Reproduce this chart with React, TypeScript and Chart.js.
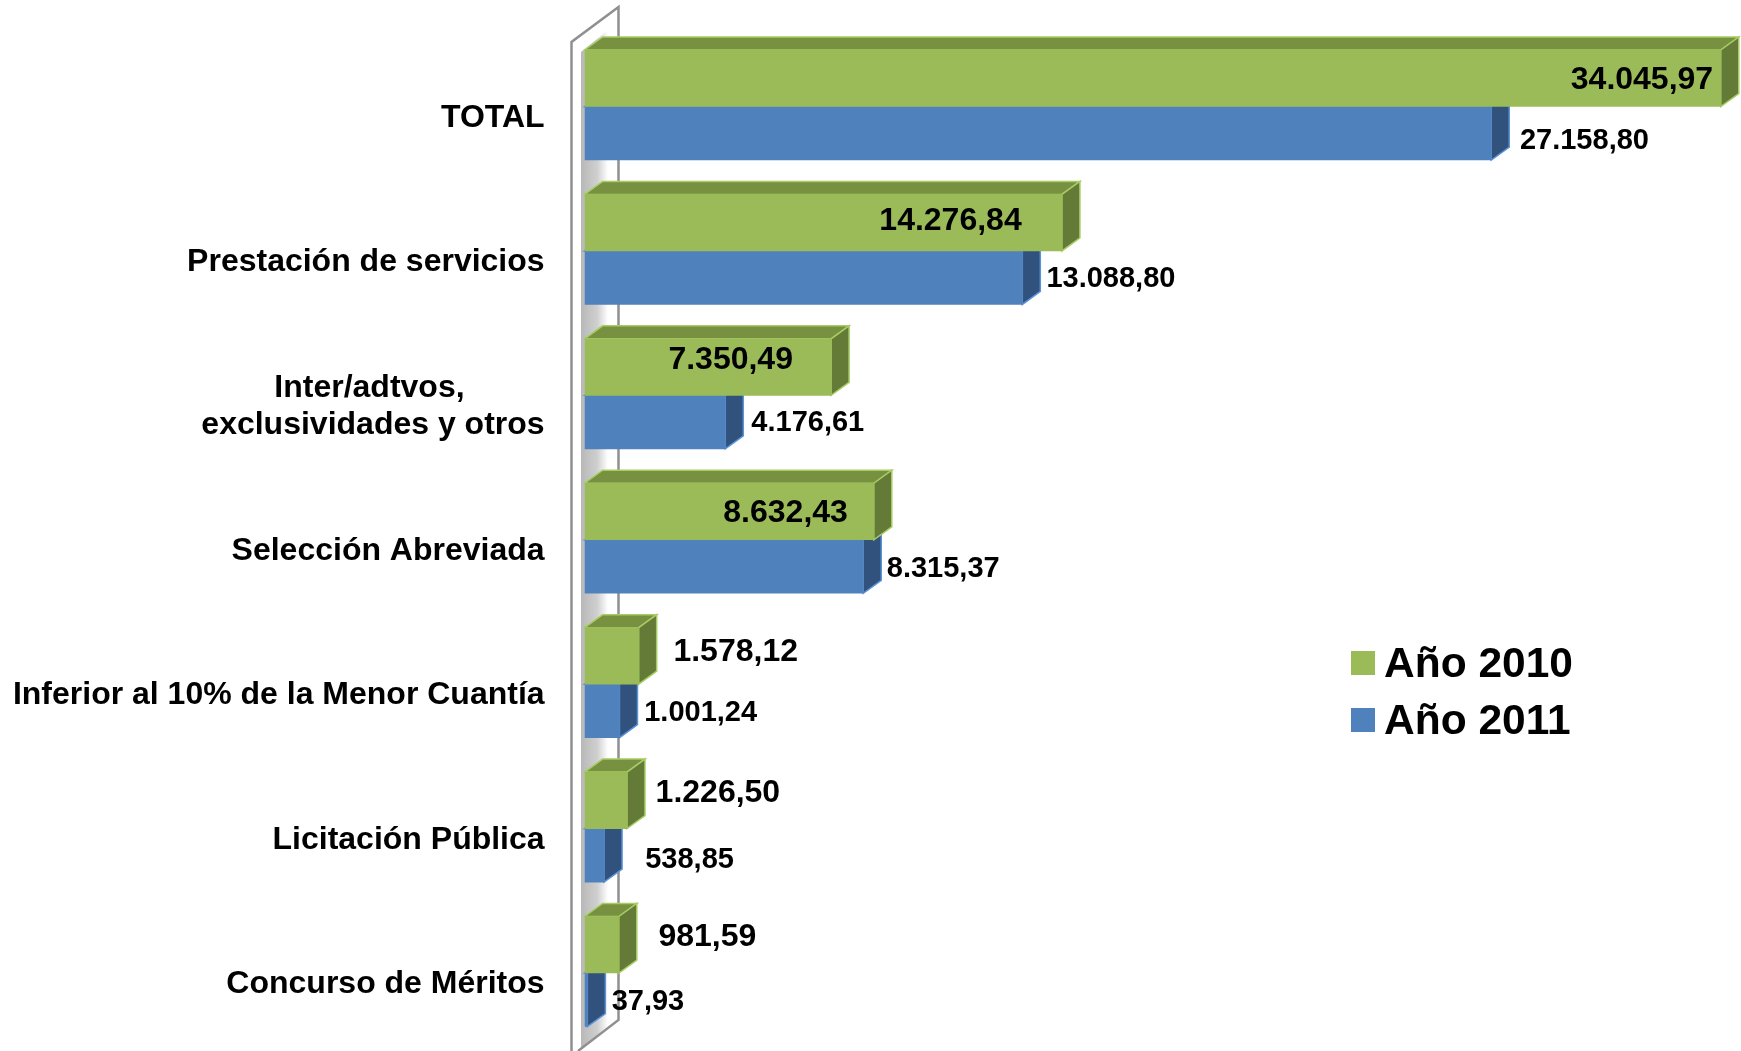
import React, { useEffect, useRef } from "react";
import { Chart, registerables } from "chart.js";

Chart.register(...registerables);

const categories: (string | string[])[] = [
  "TOTAL",
  "Prestación de servicios",
  ["Inter/adtvos,", "exclusividades y otros"],
  "Selección Abreviada",
  "Inferior al 10% de la Menor Cuantía",
  "Licitación Pública",
  "Concurso de Méritos",
];
const seriesNames = ["Año 2010", "Año 2011"];
const values2010 = [34045.97, 14276.84, 7350.49, 8632.43, 1578.12, 1226.5, 981.59];
const values2011 = [27158.8, 13088.8, 4176.61, 8315.37, 1001.24, 538.85, 37.93];
const labels2010 = ["34.045,97", "14.276,84", "7.350,49", "8.632,43", "1.578,12", "1.226,50", "981,59"];
const labels2011 = ["27.158,80", "13.088,80", "4.176,61", "8.315,37", "1.001,24", "538,85", "37,93"];

// label placement relative to bar end / bar centre
const offsetX2010 = [-78.8, -111.4, -100.4, -88.2, 97, 90.9, 88.6];
const offsetY2010 = [-0.3, -3.7, -9.3, -0.5, -6.1, -9.5, -9.5];
const offsetX2011 = [93.2, 88.6, 82.5, 80, 81.2, 85.5, 60.6];
const offsetY2011 = [5.5, -1.2, -1.2, -0.1, -0.2, 2, -0.3];

const FONT = '"Liberation Sans", Arial, sans-serif';
const DEPTH_X = 18;
const DEPTH_Y = -13;
const TEXT_SHIFT = 2.2;

const styles = [
  { front: "#9BBB59", top: "#779140", side: "#647A37", edge: "#A6CC63", font: 32, dx: offsetX2010, dy: offsetY2010, text: labels2010 },
  { front: "#4F81BD", top: "#3A5F8C", side: "#31527D", edge: "#5A93D8", font: 29, dx: offsetX2011, dy: offsetY2011, text: labels2011 },
];

function poly(ctx: CanvasRenderingContext2D, pts: number[][], fill: string, stroke: string) {
  ctx.beginPath();
  pts.forEach((p, i) => (i ? ctx.lineTo(p[0], p[1]) : ctx.moveTo(p[0], p[1])));
  ctx.closePath();
  ctx.fillStyle = fill;
  ctx.fill();
  ctx.strokeStyle = stroke;
  ctx.lineWidth = 1.5;
  ctx.stroke();
}

const wallPlugin = {
  id: "wall",
  beforeDatasetsDraw(chart: any) {
    const ctx = chart.ctx as CanvasRenderingContext2D;
    const h = chart.height;
    const L = 571.5;
    const F = 581;
    const R = 618.5;
    ctx.save();
    const g = ctx.createLinearGradient(F, 0, F + 27, 0);
    g.addColorStop(0, "#B8B8B8");
    g.addColorStop(0.6, "#CFCFCF");
    g.addColorStop(1, "#FFFFFF");
    ctx.fillStyle = g;
    ctx.beginPath();
    ctx.moveTo(F, 52);
    ctx.lineTo(F + 27, 30);
    ctx.lineTo(F + 27, 1026);
    ctx.lineTo(F, h - 2);
    ctx.closePath();
    ctx.fill();
    ctx.strokeStyle = "#909090";
    ctx.lineWidth = 2.5;
    ctx.beginPath();
    ctx.moveTo(L, h);
    ctx.lineTo(L, 42);
    ctx.lineTo(R, 7);
    ctx.lineTo(R, 1020);
    ctx.lineTo(578, h);
    ctx.stroke();
    ctx.restore();
  },
};

const barFacesPlugin = {
  id: "barFaces",
  beforeDatasetDraw(chart: any, args: any) {
    const ctx = chart.ctx as CanvasRenderingContext2D;
    const s = styles[args.index];
    const meta = chart.getDatasetMeta(args.index);
    ctx.save();
    meta.data.forEach((bar: any) => {
      const topY = bar.y - bar.height / 2;
      const botY = bar.y + bar.height / 2;
      poly(ctx, [[bar.base, topY], [bar.base + DEPTH_X, topY + DEPTH_Y], [bar.x + DEPTH_X, topY + DEPTH_Y], [bar.x, topY]], s.top, s.edge);
      poly(ctx, [[bar.x, topY], [bar.x + DEPTH_X, topY + DEPTH_Y], [bar.x + DEPTH_X, botY + DEPTH_Y], [bar.x, botY]], s.side, s.edge);
    });
    ctx.restore();
  },
};

const valueLabelPlugin = {
  id: "valueLabels",
  afterDraw(chart: any) {
    const ctx = chart.ctx as CanvasRenderingContext2D;
    ctx.save();
    ctx.fillStyle = "#000";
    ctx.textAlign = "center";
    ctx.textBaseline = "middle";
    styles.forEach((s, d) => {
      ctx.font = `bold ${s.font}px ${FONT}`;
      chart.getDatasetMeta(d).data.forEach((bar: any, i: number) => {
        ctx.fillText(s.text[i], bar.x + s.dx[i], bar.y + s.dy[i] + TEXT_SHIFT);
      });
    });
    ctx.restore();
  },
};

const legendPlugin = {
  id: "sideLegend",
  afterDraw(chart: any) {
    const ctx = chart.ctx as CanvasRenderingContext2D;
    ctx.save();
    ctx.font = `bold 42.5px ${FONT}`;
    ctx.textBaseline = "middle";
    ctx.textAlign = "left";
    seriesNames.forEach((name, i) => {
      const y = 663 + i * 57;
      ctx.fillStyle = styles[i].front;
      ctx.fillRect(1351, y - 12, 24, 24);
      ctx.fillStyle = "#000";
      ctx.fillText(name, 1384, y + 2);
    });
    ctx.restore();
  },
};

export default function App() {
  const ref = useRef<HTMLCanvasElement>(null);
  useEffect(() => {
    const chart = new Chart(ref.current!, {
      type: "bar",
      data: {
        labels: categories as any,
        datasets: [
          { label: seriesNames[0], data: values2010, backgroundColor: styles[0].front, barThickness: 56.5, base: -45 } as any,
          { label: seriesNames[1], data: values2011, backgroundColor: styles[1].front, barThickness: 53.5, base: -45 } as any,
        ],
      },
      options: {
        indexAxis: "y",
        animation: false,
        responsive: false,
        layout: { padding: { top: 34.3, bottom: 5.8, left: 0, right: 0 } },
        plugins: { legend: { display: false }, tooltip: { enabled: false } },
        scales: {
          x: {
            min: -45,
            max: 34653,
            display: false,
          },
          y: {
            border: { display: false },
            grid: { display: false, drawTicks: false },
            afterFit: (scale: any) => {
              scale.width = 584.6;
              scale.paddingTop = 0;
              scale.paddingBottom = 0;
            },
            ticks: {
              color: "#000",
              padding: 40,
              labelOffset: 11.2,
              autoSkip: false,
              font: { family: FONT, size: 32, weight: "bold", lineHeight: 1.145 },
              callback: (_v: any, i: number) => {
                const c = categories[i];
                return Array.isArray(c) ? [c[0] + " ".repeat(9), c[1]] : c;
              },
            },
          },
        },
      },
      plugins: [wallPlugin, barFacesPlugin, valueLabelPlugin, legendPlugin],
    } as any);
    return () => chart.destroy();
  }, []);
  return (
    <div style={{ position: "fixed", left: 0, top: 0, width: 1741, height: 1051, background: "#fff" }}>
      <canvas ref={ref} width={1741} height={1051} style={{ display: "block" }} />
    </div>
  );
}
